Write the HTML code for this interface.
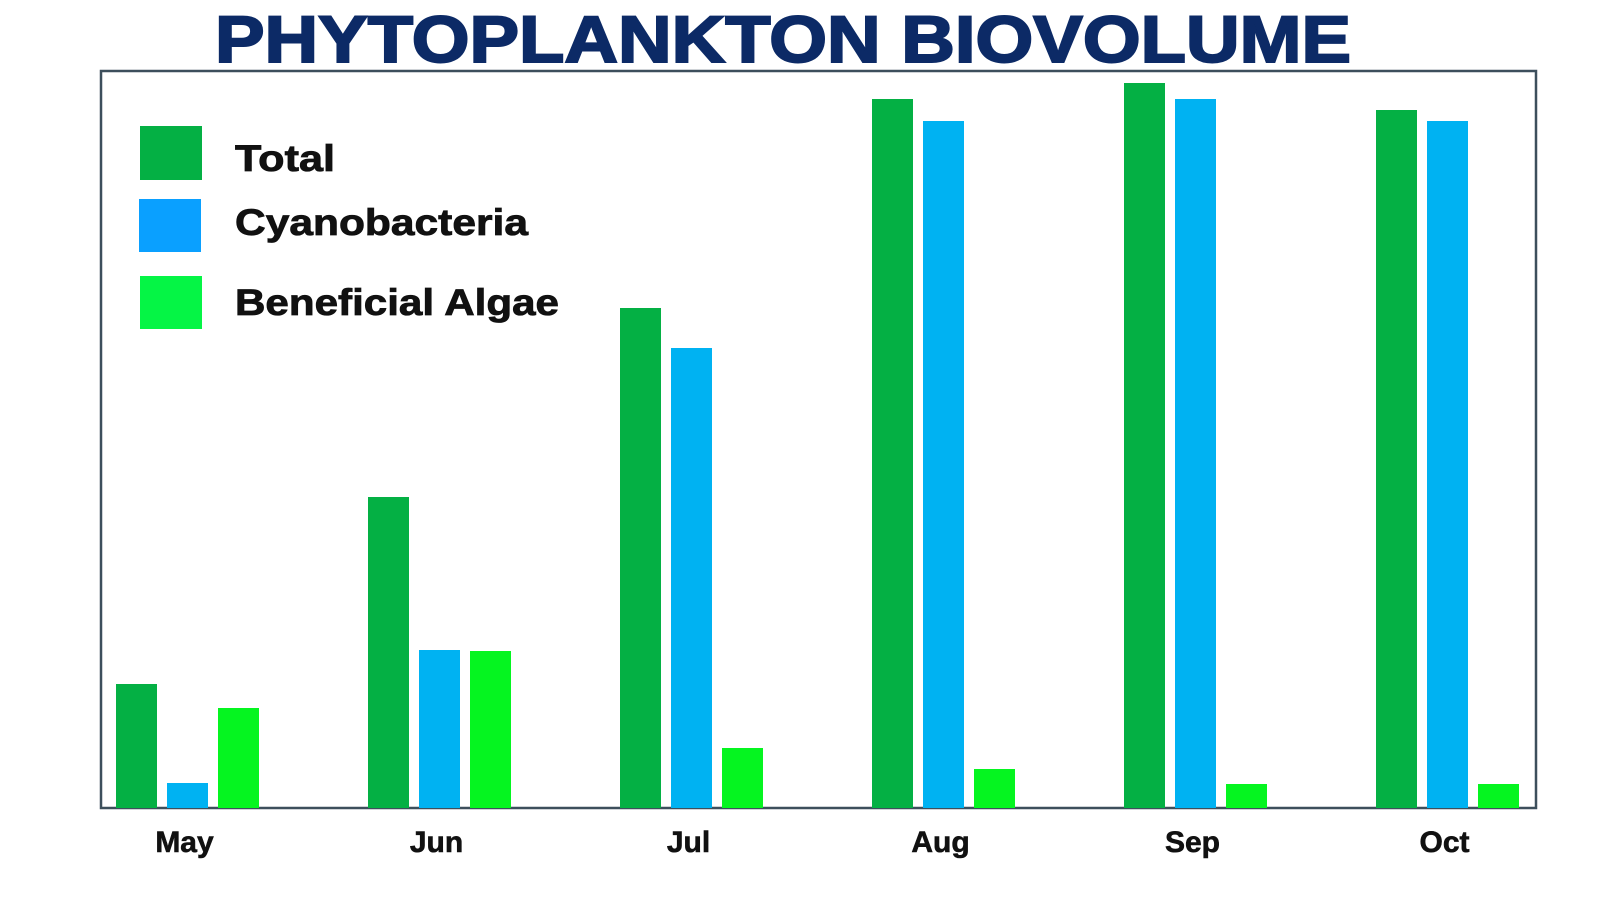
<!DOCTYPE html>
<html><head><meta charset="utf-8"><style>
html,body{margin:0;padding:0;background:#fff;}
body{width:1599px;height:899px;overflow:hidden;font-family:"Liberation Sans",sans-serif;}
</style></head><body>
<svg id="chart" width="1599" height="899" xmlns="http://www.w3.org/2000/svg">
<text x="783" y="62" text-anchor="middle" font-family="Liberation Sans, sans-serif" font-weight="bold" font-size="66" fill="#0c2a66" stroke="#0c2a66" stroke-width="2" textLength="1136" lengthAdjust="spacingAndGlyphs">PHYTOPLANKTON BIOVOLUME</text>
<rect x="101" y="71" width="1435" height="737" fill="none" stroke="#3d4f5c" stroke-width="2.5"/>
<g id="bars"></g>
<g id="xlabels"></g>
<g font-weight="bold" font-size="37" fill="#111" stroke="#111" stroke-width="0.8">
<rect x="140" y="126" width="62" height="54" fill="#04b044" stroke="none"/>
<text x="235" y="171" textLength="100" lengthAdjust="spacingAndGlyphs">Total</text>
<rect x="139" y="199" width="62" height="53" fill="#0aa0ff" stroke="none"/>
<text x="235" y="235" textLength="293" lengthAdjust="spacingAndGlyphs">Cyanobacteria</text>
<rect x="140" y="276" width="62" height="53" fill="#05f545" stroke="none"/>
<text x="235" y="315" textLength="324" lengthAdjust="spacingAndGlyphs">Beneficial Algae</text>
</g>
</svg>
<script>
const categories = ["May","Jun","Jul","Aug","Sep","Oct"];
const totalValues = [124,311,500,709,725,698];
const cyanoValues = [25,158,460,687,709,687];
const algaeValues = [100,157,60,39,24,24];
const seriesNames = ["total","cyanobacteria","beneficial-algae"];

const NS="http://www.w3.org/2000/svg";
const baseY=808, topY=71, yMax=737;
function yScale(v){return baseY-(v/yMax)*(baseY-topY);}
const groupStart=116, groupStep=252, barW=41, barStride=51;
function xBar(i,s){return groupStart+i*groupStep+s*barStride;}
const colors=["#04b044","#00b2f2","#05f520"];
const series=[totalValues,cyanoValues,algaeValues];
const gb=document.getElementById("bars"), gl=document.getElementById("xlabels");
categories.forEach((c,i)=>{
  series.forEach((vals,s)=>{
    const r=document.createElementNS(NS,"rect");
    
    
    const y=yScale(vals[i]);
    r.setAttribute("x",xBar(i,s));r.setAttribute("y",y);
    r.setAttribute("width",barW);r.setAttribute("height",baseY-y);
    r.setAttribute("fill",colors[s]);
    gb.appendChild(r);
  });
  const t=document.createElementNS(NS,"text");
  
  
  t.setAttribute("x",xBar(i,1)+barW/2-3);t.setAttribute("y",852);
  t.setAttribute("text-anchor","middle");t.setAttribute("font-weight","bold");
  t.setAttribute("font-size","30");t.setAttribute("fill","#111");
  t.setAttribute("stroke","#111");t.setAttribute("stroke-width","0.6");
  t.textContent=c;gl.appendChild(t);
});
</script>
</body></html>
